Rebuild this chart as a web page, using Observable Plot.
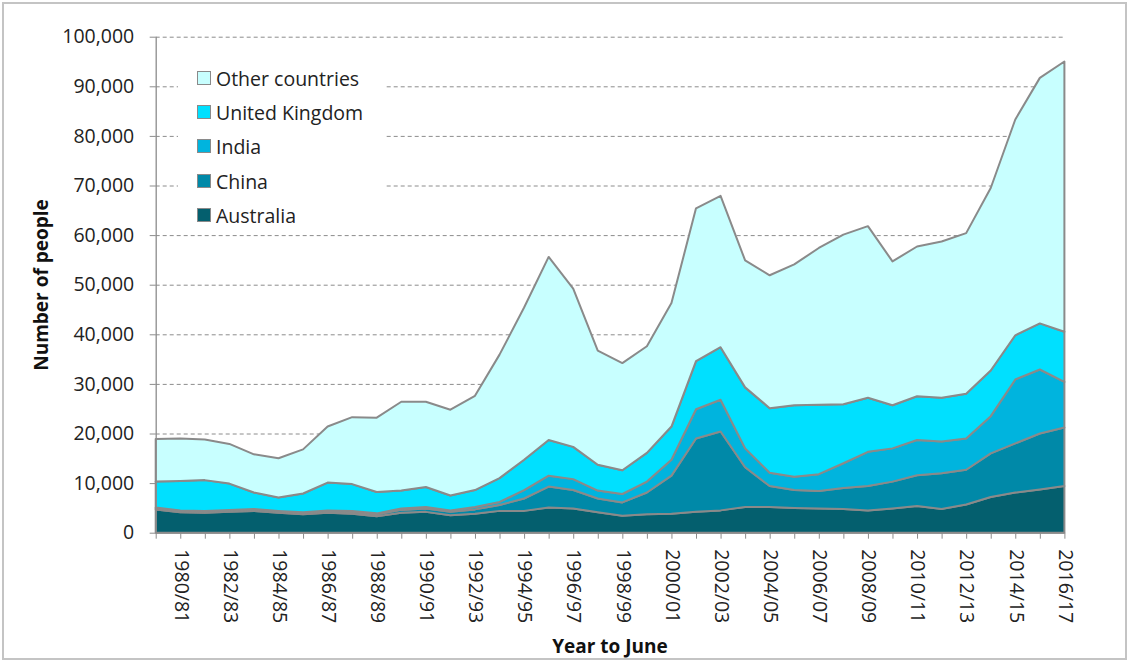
<!DOCTYPE html>
<html>
<head>
<meta charset="utf-8">
<script src="https://cdn.jsdelivr.net/npm/d3@7"></script>
<script src="https://cdn.jsdelivr.net/npm/@observablehq/plot@0.6"></script>
<style>
  html, body { margin: 0; padding: 0; background: white; }
  #wrap { position: relative; width: 1130px; height: 661px; overflow: hidden; font-family: "Open Sans", Lato, sans-serif; }
  #frame { position: absolute; left: 2px; top: 2px; width: 1121px; height: 654px; border: 2px solid #c4c4c4; pointer-events: none; }
  #legend { position: absolute; left: 178px; top: 56px; width: 208px; height: 172px; background: white; }
  .row { position: absolute; left: 19px; height: 20px; display: flex; align-items: center; font-size: 19.5px; color: #222; white-space: nowrap; }
  .sw { width: 12px; height: 12px; border: 1.5px solid #8a8a8a; margin-right: 5px; flex: none; }
  #ytitle { position: absolute; left: 41px; top: 285px; transform: translate(-50%, -50%) rotate(-90deg); font-weight: bold; font-size: 19px; color: #111; white-space: nowrap; }
  #xtitle { position: absolute; left: 610px; top: 646px; transform: translate(-50%, -50%); font-weight: bold; font-size: 19px; color: #111; white-space: nowrap; }
</style>
</head>
<body>
<div id="wrap">
  <div id="chart"></div>
  <div id="legend"></div>
  <div id="ytitle">Number of people</div>
  <div id="xtitle">Year to June</div>
  <div id="frame"></div>
</div>
<script>
const years = ["1979/80","1980/81","1981/82","1982/83","1983/84","1984/85","1985/86","1986/87","1987/88","1988/89",
  "1989/90","1990/91","1991/92","1992/93","1993/94","1994/95","1995/96","1996/97","1997/98","1998/99",
  "1999/00","2000/01","2001/02","2002/03","2003/04","2004/05","2005/06","2006/07","2007/08","2008/09",
  "2009/10","2010/11","2011/12","2012/13","2013/14","2014/15","2015/16","2016/17"];

const australia = [4700,4100,4000,4200,4400,4000,3700,4000,3800,3300,4000,4200,3500,3800,4400,4400,5100,4900,4100,3400,3700,3800,4200,4500,5200,5200,5000,4900,4800,4500,4900,5400,4800,5700,7200,8100,8700,9400];
const china = [200,200,200,200,200,200,200,300,400,400,600,700,700,900,1200,2500,4200,3700,2800,2700,4400,7700,14800,15900,8000,4200,3600,3500,4200,4900,5400,6200,7200,7000,8800,9900,11300,11800];
const india = [200,200,200,200,200,200,200,200,200,200,300,300,300,500,600,1700,2200,2200,1600,1700,2200,3200,5900,6400,3800,2700,2700,3400,5000,6900,6700,7100,6400,6300,7500,12900,12900,9200];
const unitedKingdom = [5200,5900,6200,5300,3300,2700,3800,5600,5400,4300,3600,4000,3000,3400,4800,6100,7200,6500,5200,4800,5800,6700,9700,10600,12300,13000,14400,14000,11900,10900,8700,8800,8800,9000,9200,8900,9300,10100];
const otherCountries = [8600,8600,8200,8000,7700,7900,8900,11300,13500,15000,17900,17200,17300,19000,24900,30700,36900,31900,23000,21600,21500,24900,30800,30500,25600,26800,28400,31600,34200,34600,29000,30200,31500,32400,36800,43500,49500,54500];

const seriesNames = ["Australia","China","India","United Kingdom","Other countries"];
const seriesValues = [australia, china, india, unitedKingdom, otherCountries];
const seriesColors = ["#045f6e","#0089a8","#00b4de","#00e0ff","#c8ffff"];
const yTicks = [0,10000,20000,30000,40000,50000,60000,70000,80000,90000,100000];

const data = [];
seriesNames.forEach((name, s) => {
  seriesValues[s].forEach((v, i) => data.push({i, series: name, value: v}));
});

const xIdx = d3.range(years.length);

const chart = Plot.plot({
  width: 1130,
  height: 661,
  marginLeft: 155.7,
  marginRight: 65.6,
  marginTop: 36.7,
  marginBottom: 128.3,
  style: {fontFamily: "'Open Sans', Lato, sans-serif", fontSize: "19px", background: "white", color: "#222"},
  x: {domain: [0, years.length - 1]},
  y: {domain: [0, 100000]},
  color: {domain: seriesNames, range: seriesColors},
  marks: [
    Plot.ruleY(yTicks.slice(1), {x1: 0, x2: years.length - 1, stroke: "#8c8c8c", strokeDasharray: "4,3", strokeWidth: 1}),
    Plot.areaY(data, Plot.stackY({order: seriesNames}, {x: "i", y: "value", z: "series", fill: "series", stroke: "#8a8a8a", strokeWidth: 2, strokeLinejoin: "round"})),
    Plot.ruleX([0], {y1: 0, y2: 100000, stroke: "#8c8c8c", strokeWidth: 1.3}),
    Plot.ruleY([0], {x1: 0, x2: years.length - 1, stroke: "#8c8c8c", strokeWidth: 1.3}),
    Plot.axisY({ticks: yTicks, tickFormat: d3.format(","), tickSize: 6, tickPadding: 16, stroke: "#8c8c8c", fill: "#222", fontSize: 19.5, label: null}),
    Plot.axisX({ticks: xIdx, tickFormat: i => (i % 2 === 1 ? years[i] : ""), tickSize: 6, tickPadding: 10, tickRotate: 90, stroke: "#8c8c8c", fill: "#222", fontSize: 19.5, label: null})
  ]
});
document.getElementById("chart").appendChild(chart);

const legend = document.getElementById("legend");
const order = [4,3,2,1,0];
const rowCenters = [22, 56, 90, 125, 159];
order.forEach((s, k) => {
  const row = document.createElement("div");
  row.className = "row";
  row.style.top = (rowCenters[k] - 10) + "px";
  const sw = document.createElement("span");
  sw.className = "sw";
  sw.style.background = seriesColors[s];
  const t = document.createElement("span");
  t.textContent = seriesNames[s];
  row.appendChild(sw);
  row.appendChild(t);
  legend.appendChild(row);
});
</script>
</body>
</html>
